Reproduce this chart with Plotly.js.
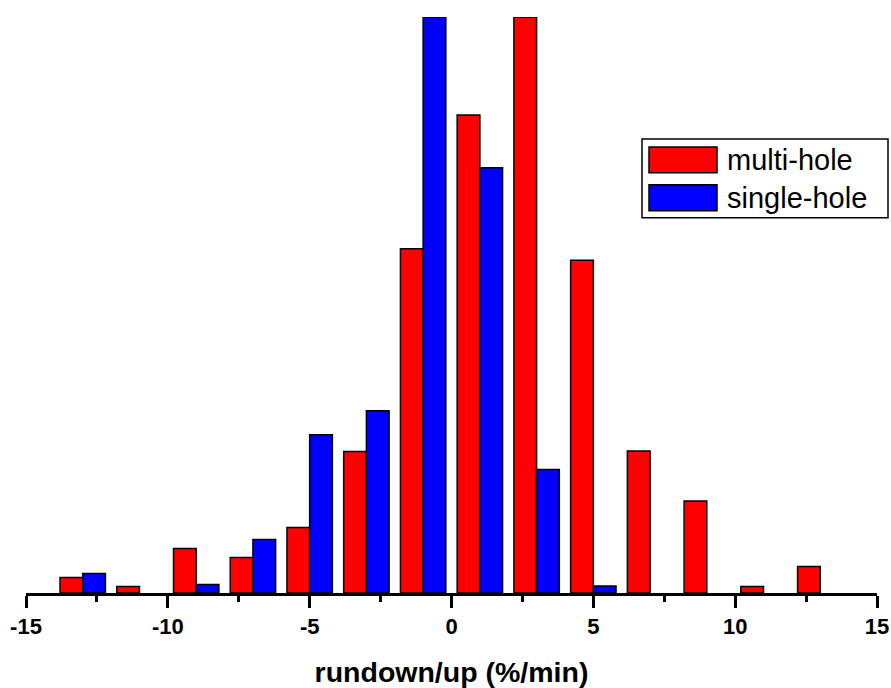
<!DOCTYPE html>
<html>
<head>
<meta charset="utf-8">
<script src="https://cdn.plot.ly/plotly-3.0.1.min.js"></script>
<style>html,body{margin:0;padding:0;background:#fff;}#chart{width:891px;height:688px;}</style>
</head>
<body>
<div id="chart"></div>
<script>
// Bin centres (rundown/up, %/min)
var binCenters = [-13, -11, -9, -7, -5, -3, -1, 1, 3, 5, 7, 9, 11, 13];
// Relative frequencies (arbitrary units); null = empty bin
var multiHole  = [1.55, 0.65, 4.45, 3.55, 6.55, 14.15, 34.45, 47.85, 57.65, 33.3, 14.2, 9.2, 0.65, 2.65];
var singleHole = [1.95, null, 0.85, 5.35, 15.85, 18.25, 57.65, 42.55, 12.35, 0.7, null, null, null, null];
var seriesNames = ["multi-hole", "single-hole"];
var xTitle = "rundown/up (%/min)";
var xTickVals = [-15, -10, -5, 0, 5, 10, 15];
var xTickText = ["-15", "-10", "-5", "0", "5", "10", "15"];

var W = 891, H = 688;
var M = {l: 26, r: 14, t: 17, b: 94.5};
var plotW = W - M.l - M.r, plotH = H - M.t - M.b;
function px(x) { return (x - M.l) / plotW; }
function py(y) { return (H - M.b - y) / plotH; }

var FONT = '"Liberation Sans", Arial, sans-serif';

var traces = [
  {type: 'bar', x: binCenters, y: multiHole, name: seriesNames[0],
   marker: {color: '#ff0000', line: {color: '#000', width: 1.5}}, showlegend: false, hoverinfo: 'x+y'},
  {type: 'bar', x: binCenters, y: singleHole, name: seriesNames[1],
   marker: {color: '#0000ff', line: {color: '#000', width: 1.5}}, showlegend: false, hoverinfo: 'x+y'}
];

var shapes = [
  {type: 'rect', xref: 'paper', yref: 'paper', x0: px(642), x1: px(888), y0: py(218), y1: py(139),
   line: {color: '#000', width: 1.5}, fillcolor: 'rgba(255,255,255,0)'},
  {type: 'rect', xref: 'paper', yref: 'paper', x0: px(649), x1: px(717), y0: py(173), y1: py(147),
   line: {color: '#000', width: 1.5}, fillcolor: '#ff0000'},
  {type: 'rect', xref: 'paper', yref: 'paper', x0: px(649), x1: px(717), y0: py(211), y1: py(185),
   line: {color: '#000', width: 1.5}, fillcolor: '#0000ff'}
];

var annotations = [
  {xref: 'paper', yref: 'paper', x: px(725), y: py(160), xanchor: 'left', yanchor: 'middle',
   text: seriesNames[0], showarrow: false, font: {family: FONT, size: 29, color: '#000'}},
  {xref: 'paper', yref: 'paper', x: px(725), y: py(198), xanchor: 'left', yanchor: 'middle',
   text: seriesNames[1], showarrow: false, font: {family: FONT, size: 29, color: '#000'}}
];

var layout = {
  width: W, height: H,
  margin: M,
  paper_bgcolor: '#fff', plot_bgcolor: '#fff',
  barmode: 'group', bargap: 0.2, bargroupgap: 0,
  showlegend: false,
  font: {family: FONT, color: '#000'},
  xaxis: {
    range: [-15, 15], tickmode: 'array', tickvals: xTickVals, ticktext: xTickText,
    showgrid: false, zeroline: false,
    showline: true, linecolor: '#000', linewidth: 3,
    ticks: 'outside', ticklen: 12, tickwidth: 3, tickcolor: '#000',
    minor: {dtick: 2.5, tick0: 0, ticks: 'outside', ticklen: 6, tickwidth: 3, tickcolor: '#000', showgrid: false},
    tickfont: {family: FONT, size: 22, weight: 'bold', color: '#000'},
    title: {text: xTitle, font: {family: FONT, size: 28.5, weight: 'bold', color: '#000'}, standoff: 25},
    fixedrange: true
  },
  yaxis: {
    range: [0, 57.65], visible: false, showgrid: false, zeroline: false, fixedrange: true
  },
  shapes: shapes,
  annotations: annotations
};

Plotly.newPlot('chart', traces, layout, {displayModeBar: false, staticPlot: true});
</script>
</body>
</html>
